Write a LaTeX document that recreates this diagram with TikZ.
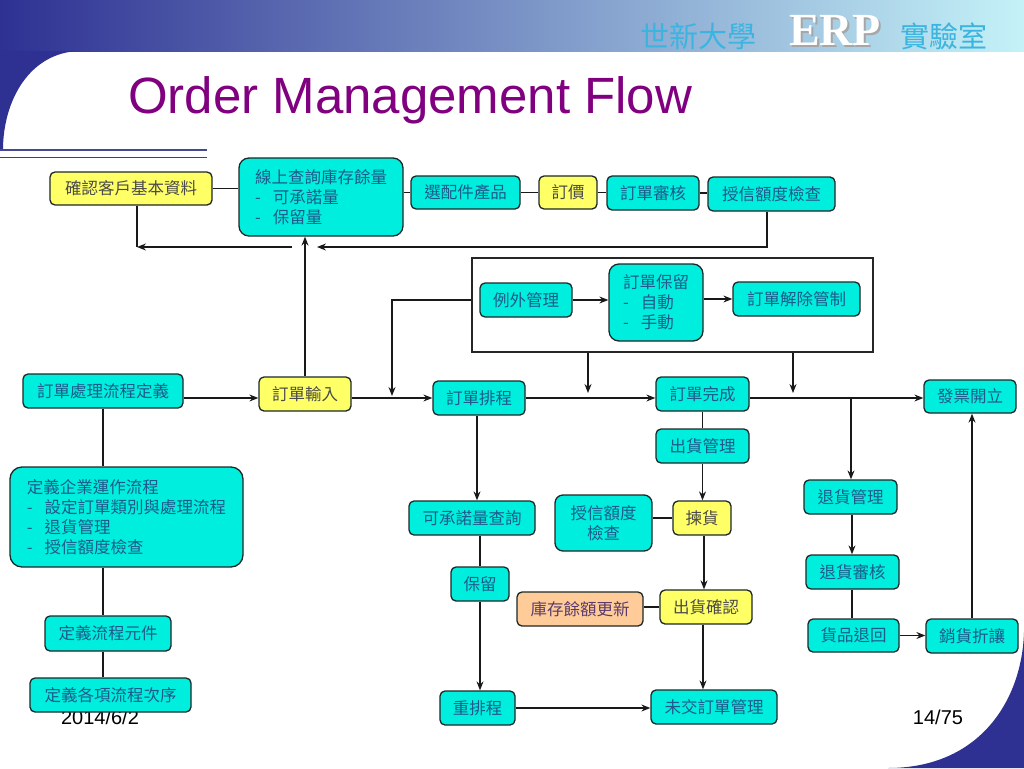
\documentclass[tikz,border=0pt]{standalone}
\usepackage{fontspec}
\setmainfont{Liberation Sans}
\newfontfamily\cjk{Noto Sans CJK TC}
\newfontfamily\erpfont{Liberation Serif}
\usetikzlibrary{arrows.meta,calc}
\definecolor{cy}{HTML}{00EEDD}
\definecolor{cytext}{HTML}{1E5A8C}
\definecolor{yel}{HTML}{FFFF66}
\definecolor{ytext}{HTML}{4A4A4A}
\definecolor{org}{HTML}{FFCC99}
\definecolor{otext}{HTML}{5A3A6A}
\definecolor{bord}{HTML}{1C2828}
\definecolor{darkblue}{HTML}{2E3192}
\definecolor{lightband}{HTML}{C4F2F8}
\definecolor{headcjk}{HTML}{3BB5E0}
\definecolor{titlepurple}{HTML}{800080}
\newcommand\dashitem{\makebox[18pt][l]{-}}
\tikzset{
  box/.style={draw=bord, line width=1.3pt, rounded corners=5pt, fill=cy, text=cytext,
    font=\cjk\fontsize{16.5}{20}\selectfont, inner sep=0pt, anchor=center},
  bigbox/.style={box, rounded corners=10pt, align=left},
  ybox/.style={box, fill=yel, text=ytext},
  obox/.style={box, fill=org, text=otext},
  ln/.style={line width=1.2pt, draw=black!90},
  arr/.style={ln, -{Stealth[length=9pt,width=7pt,inset=3pt]}},
  frame/.style={draw=black!85, line width=1.3pt, fill=white, inner sep=0pt}
}
\begin{document}
\begin{tikzpicture}[x=1pt,y=-1pt]
\useasboundingbox (0,0) rectangle (1024,768);
% background
\fill[white] (0,0) rectangle (1024,768);
\shade[left color=darkblue, right color=lightband] (0,0) rectangle (1024,52);
\fill[darkblue] (0,51) -- (80,51) .. controls (30,52) and (3,100) .. (3,150) -- (0,150) -- cycle;
\fill[darkblue] (1024,632) .. controls (1022,700) and (980,768) .. (888,768) -- (1024,768) -- cycle;
\draw[line width=1.5pt, color=darkblue!70!gray] (0,150) -- (207,150);
\draw[line width=1.5pt, color=darkblue!85!gray] (0,157.5) -- (207,157.5);
% header
\node[anchor=west, text=headcjk, font=\cjk\fontsize{29}{30}\selectfont, inner sep=0pt] (hd1) at (640,36) {世新大學};
\node[text=gray!70, font=\erpfont\bfseries\fontsize{46}{46}\selectfont, inner sep=0pt] (erpS) at (837,32) {ERP};
\node[text=white, font=\erpfont\bfseries\fontsize{46}{46}\selectfont, inner sep=0pt] (erp) at (835,30) {ERP};
\node[anchor=west, text=headcjk, font=\cjk\fontsize{29}{30}\selectfont, inner sep=0pt] (hd2) at (900,36) {實驗室};
% title
\node[anchor=base west, text=titlepurple, font=\fontsize{51}{51}\selectfont, inner sep=0pt] (title) at (128,113) {Order Management Flow};
% footer
\node[font=\fontsize{20}{20}\selectfont, inner sep=0pt] (date) at (100,717) {2014/6/2};
\node[font=\fontsize{20}{20}\selectfont, inner sep=0pt] (page) at (938,717) {14/75};

% top row
\node[ybox, minimum width=162, minimum height=33] (A1) at (131,188.5) {確認客戶基本資料};
\node[bigbox, minimum width=164, minimum height=78] (A2) at (321,197) {線上查詢庫存餘量\\\dashitem 可承諾量\\\dashitem 保留量};
\node[box, minimum width=109, minimum height=33] (A3) at (465.5,192.5) {選配件產品};
\node[ybox, minimum width=58, minimum height=33] (A4) at (568,192.5) {訂價};
\node[box, minimum width=92, minimum height=34] (A5) at (653,193) {訂單審核};
\node[box, minimum width=127, minimum height=34] (A6) at (771.5,194) {授信額度檢查};

% frame
\node[frame, minimum width=401, minimum height=94] (FR) at (672.5,305) {};
\node[box, minimum width=92, minimum height=34] (C1) at (526,300) {例外管理};
\node[bigbox, minimum width=94, minimum height=77] (C2) at (656,302.5) {訂單保留\\\dashitem 自動\\\dashitem 手動};
\node[box, minimum width=127, minimum height=34] (C3) at (796.5,299) {訂單解除管制};

% main row
\node[box, minimum width=160, minimum height=34] (B1) at (103,391) {訂單處理流程定義};
\node[ybox, minimum width=92, minimum height=34] (B2) at (305,394) {訂單輸入};
\node[box, minimum width=92, minimum height=34] (B3) at (479,398) {訂單排程};
\node[box, minimum width=93, minimum height=34] (B4) at (702.5,394) {訂單完成};
\node[box, minimum width=92, minimum height=33] (B5) at (970,396.5) {發票開立};

% left column
\node[bigbox, rounded corners=12pt, minimum width=233, minimum height=100] (D1) at (126.5,517) {定義企業運作流程\\\dashitem 設定訂單類別與處理流程\\\dashitem 退貨管理\\\dashitem 授信額度檢查};
\node[box, minimum width=126, minimum height=35] (D2) at (108,633.5) {定義流程元件};
\node[box, minimum width=161, minimum height=34] (D3) at (110.5,695) {定義各項流程次序};

% scheduling column
\node[box, minimum width=126, minimum height=34] (E1) at (472,518) {可承諾量查詢};
\node[box, minimum width=58, minimum height=34] (E2) at (480,584) {保留};
\node[box, minimum width=75, minimum height=34] (E3) at (477.5,708) {重排程};

% shipping column
\node[box, minimum width=93, minimum height=34] (F1) at (702.5,446) {出貨管理};
\node[box, rounded corners=8pt, align=center, minimum width=97, minimum height=56] (F0) at (603.5,523) {授信額度\\檢查};
\node[ybox, minimum width=58, minimum height=34] (F2) at (702,518) {揀貨};
\node[obox, minimum width=126, minimum height=34] (G) at (580,609) {庫存餘額更新};
\node[ybox, minimum width=92, minimum height=34] (F3) at (706,607) {出貨確認};
\node[box, minimum width=126, minimum height=34] (F5) at (714,707) {未交訂單管理};

% returns column
\node[box, minimum width=93, minimum height=34] (H1) at (850.5,497) {退貨管理};
\node[box, minimum width=93, minimum height=34] (H2) at (852.5,572) {退貨審核};
\node[box, minimum width=91, minimum height=33] (H3) at (853.5,635.5) {貨品退回};
\node[box, minimum width=92, minimum height=34] (H4) at (972,636) {銷貨折讓};

% coordinates
\coordinate (fbL) at (137,247);
\coordinate (fbLs) at (292,247);
\coordinate (fbR) at (767,247);
\coordinate (fbRe) at (317,247);
\coordinate (jn1) at (392,300);
\coordinate (jn1b) at (392,396);
\coordinate (fa1) at (588,393);
\coordinate (fa2) at (793,393);
\coordinate (jn2) at (851,398);

% top row connectors
\draw[ln] (A1.east) -- (A1.east -| A2.west);
\draw[ln] (A3.west -| A2.east) -- (A3.west);
\draw[ln] (A3.east) -- (A3.east -| A4.west);
\draw[ln] (A4.east) -- (A4.east -| A5.west);
\draw[ln] (A5.east) -- (A5.east -| A6.west);
\draw[ln] (A1.south -| fbL) -- (fbL);
\draw[arr] (fbLs) -- (fbL);
\draw[arr] (A6.south -| fbR) -- (fbR) -- (fbRe);
\draw[arr] (B2.north) -- (B2.north |- A2.south);

% frame connectors
\draw[arr] (C1.east) -- (C1.east -| C2.west);
\draw[arr] (C2.east |- C3.west) -- (C3.west);
\draw[arr] (FR.west |- jn1) -- (jn1) -- (jn1b);
\draw[arr] (FR.south -| fa1) -- (fa1);
\draw[arr] (FR.south -| fa2) -- (fa2);

% main row
\draw[arr] (B1.east |- B3) -- (B2.west |- B3);
\draw[arr] (B2.east |- B3) -- (B3.west);
\draw[arr] (B3.east) -- (B4.west |- B3);
\draw[arr] (B4.east |- B3) -- (B5.west |- B3);

% left column
\draw[ln] (B1.south) -- (B1.south |- D1.north);
\draw[ln] (D1.south -| B1) -- (D2.north -| B1);
\draw[ln] (D2.south -| B1) -- (D3.north -| B1);

% scheduling column
\draw[arr] (B3.south -| 477,0) -- (477,0 |- E1.north);
\draw[ln] (E1.south -| E2) -- (E2.north);
\draw[arr] (E2.south) -- (E2.south |- E3.north);
\draw[arr] (E3.east) -- (F5.west |- E3.east);

% shipping column
\draw[ln] (B4.south) -- (B4.south |- F1.north);
\draw[arr] (F1.south) -- (F1.south |- F2.north);
\draw[ln] (F0.east |- F2) -- (F2.west);
\draw[arr] (F2.south -| 704,0) -- (704,0 |- F3.north);
\draw[ln] (G.east |- F3) -- (F3.west);
\draw[arr] (F3.south -| 703,0) -- (703,0 |- F5.north);

% returns column
\draw[arr] (jn2) -- (jn2 |- H1.north);
\draw[arr] (H1.south -| 852,0) -- (852,0 |- H2.north);
\draw[ln] (H2.south -| 852,0) -- (852,0 |- H3.north);
\draw[arr] (H3.east) -- (H3.east -| H4.west);
\draw[arr] (H4.north) -- (H4.north |- B5.south);
\end{tikzpicture}
\end{document}
